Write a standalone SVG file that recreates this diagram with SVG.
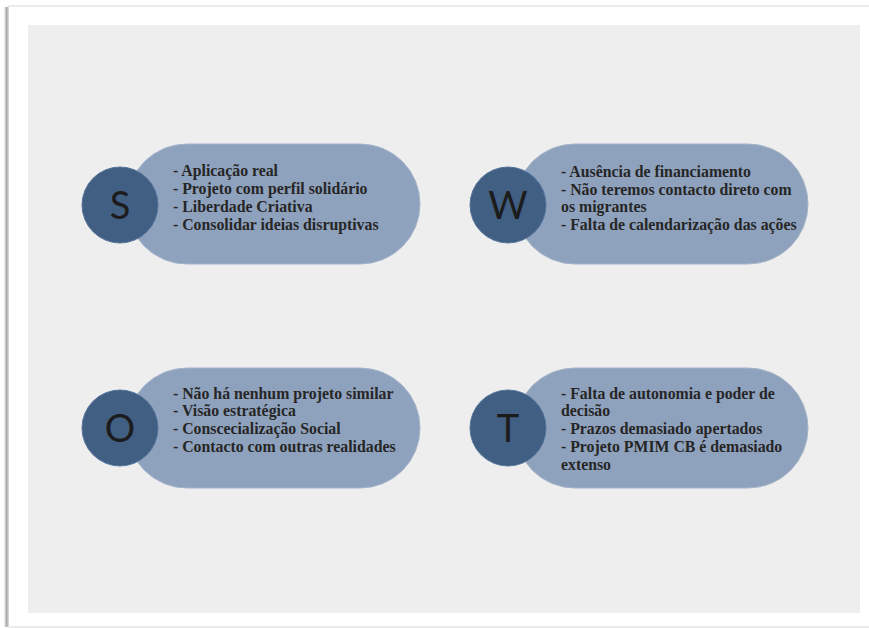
<svg xmlns="http://www.w3.org/2000/svg" width="869" height="628" viewBox="0 0 869 628">
<defs>
<style>
.pill{fill:#8fa2bd;stroke:#a4b3c9;stroke-width:1}
.dot{fill:#405f83;stroke:#56739a;stroke-width:1}
.let{font-family:Lato,"Open Sans",sans-serif;font-size:38px;fill:#1c1c1c;text-anchor:middle}
.txt{font-family:"Liberation Serif",serif;font-weight:bold;font-size:15.8px;fill:#262626}
</style>
<linearGradient id="ls" x1="0" x2="1" y1="0" y2="0">
<stop offset="0" stop-color="#ffffff"/>
<stop offset="0.5" stop-color="#a8a8a8"/>
<stop offset="1" stop-color="#e0e0e0"/>
</linearGradient>
</defs>
<rect width="869" height="628" fill="#ffffff"/>
<rect x="4" y="7" width="5" height="620" fill="url(#ls)"/>
<rect x="8" y="5" width="861" height="2" fill="#ececec"/>
<rect x="8" y="626" width="861" height="2" fill="#ececec"/>
<rect x="28" y="25" width="832" height="588" fill="#eeeeee"/>
<g id="S">
<rect class="pill" x="127" y="144" width="293" height="120" rx="60"/>
<circle class="dot" cx="120" cy="205" r="38"/>
<text class="let" x="120" y="219">S</text>
<text class="txt"><tspan x="173" y="176">- Aplicação real</tspan><tspan x="173" y="194">- Projeto com perfil solidário</tspan><tspan x="173" y="212">- Liberdade Criativa</tspan><tspan x="173" y="230">- Consolidar ideias disruptivas</tspan></text>
</g>
<g id="W">
<rect class="pill" x="515" y="144" width="293" height="120" rx="60"/>
<circle class="dot" cx="508" cy="205" r="38"/>
<text class="let" x="508" y="219">W</text>
<text class="txt"><tspan x="561" y="177">- Ausência de financiamento</tspan><tspan x="561" y="195">- Não teremos contacto direto com</tspan><tspan x="561" y="212">os migrantes</tspan><tspan x="561" y="230">- Falta de calendarização das ações</tspan></text>
</g>
<g id="O">
<rect class="pill" x="127" y="368" width="293" height="120" rx="60"/>
<circle class="dot" cx="120" cy="428" r="38"/>
<text class="let" x="120" y="442">O</text>
<text class="txt"><tspan x="173" y="399">- Não há nenhum projeto similar</tspan><tspan x="173" y="416">- Visão estratégica</tspan><tspan x="173" y="434">- Conscecialização Social</tspan><tspan x="173" y="452">- Contacto com outras realidades</tspan></text>
</g>
<g id="T">
<rect class="pill" x="515" y="368" width="293" height="120" rx="60"/>
<circle class="dot" cx="508" cy="428" r="38"/>
<text class="let" x="508" y="442">T</text>
<text class="txt"><tspan x="561" y="399">- Falta de autonomia e poder de</tspan><tspan x="561" y="416">decisão</tspan><tspan x="561" y="434">- Prazos demasiado apertados</tspan><tspan x="561" y="452">- Projeto PMIM CB é demasiado</tspan><tspan x="561" y="470">extenso</tspan></text>
</g>
<g id="connectors"/>
</svg>
